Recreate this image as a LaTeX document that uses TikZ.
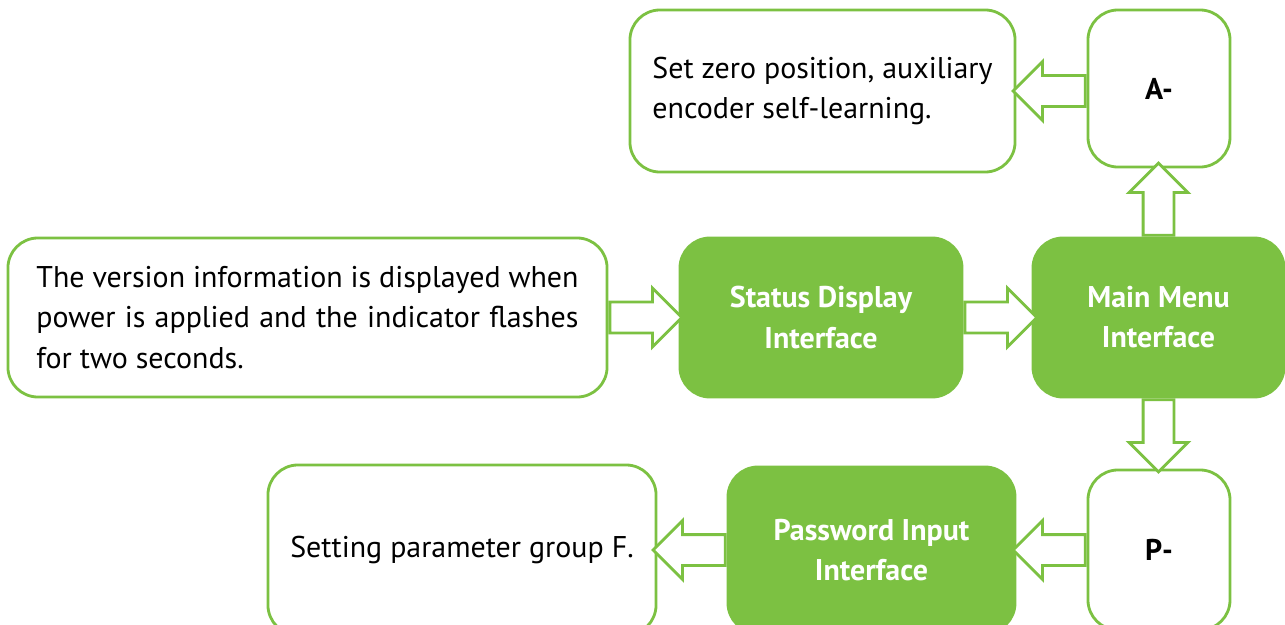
\documentclass[tikz,border=0pt]{standalone}
\usepackage{fontspec}
\setmainfont{PT Sans}
\usetikzlibrary{shapes.arrows,calc}
\definecolor{menugreen}{RGB}{124,193,66}

\tikzset{
  box/.style={draw=menugreen, line width=2pt, rounded corners=0.75cm, fill=white,
    inner sep=0pt, text=black},
  greenbox/.style={box, fill=menugreen, text=white, font=\bfseries},
  hollow/.style={single arrow, draw=menugreen, line width=2pt, fill=white,
    inner xsep=0pt, inner ysep=0.35cm, single arrow head extend=0.35cm,
    minimum height=1.8cm, anchor=tail},
}

\begin{document}
\begin{tikzpicture}[x=0.025cm, y=-0.025cm, every node/.style={font=\fontsize{21.3}{28.5}\selectfont}]
      \clip (0,0) rectangle (1285,625);
      \useasboundingbox (0,0) rectangle (1285,625);

      % upper row
      \node[box, minimum width=9.625cm, minimum height=4.05cm, align=left] (zero) at (822.5,91)
        {Set zero position, auxiliary\\encoder self-learning.};
      \node[box, minimum width=3.55cm, minimum height=3.925cm, font=\fontsize{21.3}{28.5}\selectfont\bfseries] (abox) at (1159,88.5) {A-};

      % middle row
      \node[box, minimum width=14.975cm, minimum height=3.975cm, text width=13.55cm, align=justify] (ver) at (307.5,317.5)
        {The version information is displayed when power is applied and the indicator flashes for two seconds.};
      \node[greenbox, minimum width=7.05cm, minimum height=3.975cm, align=center, font=\fontsize{21.3}{28.5}\selectfont\bfseries] (stat) at (821,317.5)
        {Status Display\\Interface};
      \node[greenbox, minimum width=6.275cm, minimum height=3.975cm, align=center, font=\fontsize{21.3}{28.5}\selectfont\bfseries] (main) at (1158.5,317.5)
        {Main Menu\\Interface};

      % lower row
      \node[box, minimum width=9.7cm, minimum height=4.25cm] (setp) at (462,550)
        {Setting parameter group F.};
      \node[greenbox, minimum width=7.175cm, minimum height=4.15cm, align=center, font=\fontsize{21.3}{28.5}\selectfont\bfseries] (pass) at (871.5,550)
        {Password Input\\Interface};
      \node[box, minimum width=3.55cm, minimum height=4cm, font=\fontsize{21.3}{28.5}\selectfont\bfseries] (pbox) at (1159,550) {P-};

      % hollow arrows between the boxes
      \node[hollow] (a1) at (ver.east) {};
      \node[hollow] (a2) at (stat.east) {};
      \node[hollow, rotate=180] (a3) at (abox.west |- zero.east) {};
      \node[hollow, rotate=90] (a4) at (main.north) {};
      \node[hollow, rotate=270] (a5) at (main.south) {};
      \node[hollow, rotate=180] (a6) at (pbox.west) {};
      \node[hollow, rotate=180] (a7) at (pass.west) {};
    \end{tikzpicture}
\end{document}
